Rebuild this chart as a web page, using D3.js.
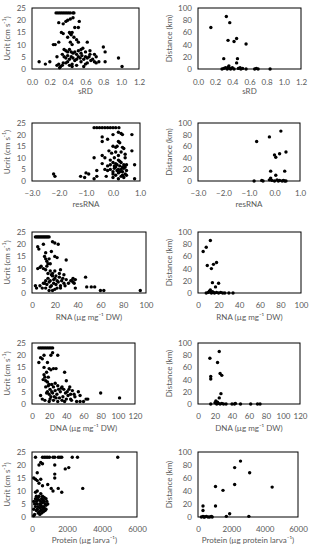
<!DOCTYPE html>
<html>
<head>
<meta charset="utf-8">
<script src="https://cdn.jsdelivr.net/npm/d3@7"></script>
<style>
  body { margin: 0; background: #fff; }
  text { font-family: Lato, "Liberation Sans", sans-serif; fill: #595959; }
</style>
</head>
<body>
<script>
// set the dimensions of the page
const WIDTH = 310, HEIGHT = 550;

// ---- data ----
const ucritTicks = [0, 5, 10, 15, 20, 25];
const distTicks = [0, 20, 40, 60, 80, 100];

const sRDUcrit = [
  [0.27,23],[0.29,23],[0.31,23],[0.33,23],[0.35,23],[0.37,23],[0.39,23],[0.41,23],[0.43,23],[0.46,23],[0.47,23],
  [0.46,21],[0.43,20.5],[0.40,20],[0.38,19.5],[0.30,19],[0.35,18.5],[0.53,19.5],[0.48,17],[0.52,17],
  [0.33,15],[0.35,14.5],[0.42,15],[0.44,14],[0.45,15],[0.40,13],[0.47,13],[0.43,14.5],
  [0.50,12],[0.52,11],[0.62,11],[0.30,11],[0.24,10],[0.26,10],[0.43,11],[0.45,10],
  [0.80,9],[0.82,7],[0.55,8],[0.60,7],[0.57,8.5],[0.65,6],[0.70,6],[0.72,5],
  [0.36,8],[0.38,7.5],[0.40,7],[0.42,8],[0.44,7],[0.46,6.5],[0.48,7],[0.50,6],
  [0.34,6],[0.36,5],[0.38,4.5],[0.40,5.5],[0.42,4],[0.44,5],[0.46,4.5],[0.48,3.5],
  [0.50,4],[0.52,5],[0.54,4.5],[0.56,5.5],[0.58,4],[0.60,5],[0.62,4.5],[0.64,5],
  [0.66,3.5],[0.68,4],[0.70,3],[0.72,2.5],[0.75,3],[0.82,3],[0.60,2],[0.55,3],
  [0.45,2],[0.42,1.5],[0.40,3],[0.38,2.5],[0.45,1],[0.50,1.5],[0.58,1],[0.62,2.5],
  [0.08,3],[0.15,2],[0.20,3],[0.28,1.5],[0.30,2],[0.32,1],[0.34,1.5],[0.31,0.5],
  [0.97,4.5],[1.01,1],[0.28,5],[0.35,2.5],[0.52,7.5],[0.65,7.5],[0.55,6.5]
];
const sRDDist = [
  [0.15,68],[0.33,86],[0.37,76],[0.35,47],[0.42,45],[0.45,50],[0.56,41],[0.30,17],[0.46,17],[0.45,10],
  [0.28,0],[0.30,1],[0.32,2],[0.34,0],[0.35,3],[0.36,5],[0.37,1],[0.38,0],[0.40,2],[0.42,0],
  [0.47,1],[0.49,2],[0.50,0],[0.52,1],[0.56,0],[0.66,0],[0.68,1],[0.70,0],[0.84,0]
];

const resRNAUcrit = [
  [-0.7,23],[-0.6,23],[-0.5,23],[-0.4,23],[-0.3,23],[-0.2,23],[-0.1,23],[0.0,23],[0.1,23],[0.22,23],
  [-2.2,3],[-2.15,2],[-1.2,2],[-1.0,3.5],[-1.05,1.5],[-0.9,3],[-0.7,1],[-0.6,2],[-0.6,4.5],[-0.7,10],
  [-0.4,19],[-0.4,17],[-0.2,18],[0.0,20],[0.2,21],[0.3,20.5],[0.35,20],[0.7,20],[0.2,17],[0.25,16.5],
  [0.7,13],[0.8,7],[0.8,1],[0.0,15],[0.1,14.5],[0.15,15],[0.35,14.5],[0.4,14],[0.1,12.5],[0.2,11],
  [-0.4,11],[-0.3,10],[-0.1,9],[0.0,8],[0.1,7.5],[0.2,9],[0.3,8],[0.45,10],[0.5,7],[-0.4,7.5],
  [-0.3,5],[-0.2,4.5],[-0.1,5],[0.0,4],[0.05,5.5],[0.1,6],[0.15,4.5],[0.2,5],[0.25,6.5],[0.3,5],
  [0.35,4],[0.4,5.5],[0.45,6],[0.5,4.5],[0.0,3],[0.1,2.5],[0.2,3.5],[0.3,2],[0.4,1.5],[0.45,3],
  [-0.2,6.5],[-0.1,7],[0.05,6.5],[0.15,7],[0.25,8.5],[0.35,6],[0.4,7],[0.5,2.5],[0.0,1.5],[0.2,1],
  [-0.05,12],[0.3,12.5],[0.45,11.5],[-0.15,13],[0.05,10],[0.25,4],[0.35,2.5],[-0.25,2]
];
const resRNADist = [
  [-0.7,68],[-0.2,76],[0.25,86],[0.0,45],[0.05,41],[0.2,47],[0.45,50],[-0.15,17],[0.05,10],[0.4,17],
  [-0.8,0],[-0.5,1],[-0.45,0],[-0.2,2],[-0.15,5],[-0.1,1],[0.0,0],[0.1,2],[0.15,0],[0.2,1],
  [0.3,0],[0.35,1],[0.4,0],[0.45,0]
];

const rnaUcrit = [
  [3,23],[4,23],[5,23],[6,23],[7,23],[8,23],[9,23],[10,23],[11,23],[12,23],[13,23],[14,23],[15,23],
  [5,19],[6,18],[10,20],[18,21],[20,20.5],[23,20],[12,16.5],[17,17],[20,15],[22,14.5],[11,15],
  [12,14],[13,13],[14,12],[15,14],[30,13.5],[8,11],[5,10],[7,10.5],[10,10],[12,9.5],[16,9],
  [18,8],[20,9],[25,9.5],[28,7.5],[13,11],[16,12],[47,6.5],[52,2.5],[55,2.5],[48,2.5],[60,1],
  [63,1],[95,1],[35,5],[37,4],[38,5.5],[36,6],[3,3],[4,2],[7,3],[9,2],[10,4],[15,1],[18,1],
  [20,1.5],[22,2],[12,5],[14,6],[16,5],[18,7],[20,6],[22,5],[24,6.5],[26,5],[28,4],[30,5.5],
  [11,4],[13,3.5],[15,4.5],[17,3],[19,4],[21,3.5],[23,4.5],[25,3],[27,6],[29,3],[32,4],[34,5],
  [36,4.5],[38,2],[14,8],[17,7.5],[21,7],[24,8],[19,5.5],[16,2.5],[12,2],[25,2]
];
const rnaDist = [
  [5,68],[8,75],[12,86],[9,45],[13,40],[15,47],[18,50],[14,17],[20,16],[17,10],
  [8,0],[10,1],[11,3],[12,5],[13,0],[14,2],[15,1],[16,0],[18,1],[20,0],[22,1],[24,0],[26,0],[30,0],[34,0]
];

const dnaUcrit = [
  [8,23],[10,23],[12,23],[14,23],[16,23],[18,23],[20,23],[22,23],[24,23],
  [8,17],[10,19],[12,18.5],[14,20],[22,20],[24,21],[30,20],[18,17],[14,15],[20,14.5],[22,14],
  [25,14.5],[28,14.5],[38,13],[15,11],[13,10],[16,9.5],[18,9],[20,8],[40,9.5],[30,7.5],
  [80,4.5],[102,2.5],[60,1],[65,2],[52,1],[56,1],[63,2],[10,3.5],[12,2],[15,1.5],[20,1],
  [25,1.5],[30,1],[35,1.5],[45,2],[50,3],[14,12],[17,13],[19,11],[21,6],[23,5],[25,7],
  [27,5.5],[29,4],[31,6],[33,5],[35,7],[37,6],[39,4.5],[41,5],[43,6],[45,4],[47,5.5],[49,4],
  [54,5],[56,3.5],[18,5],[20,4],[22,3],[24,4.5],[26,3],[28,2.5],[32,2.5],[36,3],[40,2],[42,3.5],
  [16,7],[19,7.5],[23,8],[27,8.5],[34,6.5],[44,7],[17,4.5],[21,2],[38,1],[46,1.5]
];
const dnaDist = [
  [14,75],[23,68],[25,86],[15,45],[15,41],[26,50],[28,47],[27,17],[25,10],
  [15,0],[20,2],[21,5],[22,0],[23,3],[24,1],[26,0],[28,1],[30,0],[33,0],[40,0],[43,0],[44,1],
  [50,0],[62,0],[70,0],[73,0]
];

const protUcrit = [
  [200,23],[600,23],[700,23],[800,23],[900,23],[1000,23],[1200,23],[1300,23],[1500,23],[1600,23],
  [1700,23],[2300,23],[2600,23],[4900,23],
  [400,20],[500,21],[600,20.5],[1300,20],[1900,18.5],[2100,19],[300,17],[1300,16.5],[100,15],
  [200,14.5],[300,14],[400,13],[500,14.5],[600,12],[900,12.5],[1300,15],[1100,11],[1200,10],
  [1500,11],[1700,9.5],[2900,11],[300,10],[500,9],[200,9.5],[100,3],[150,1],[100,0.5],
  [200,7],[250,6],[300,5],[350,7.5],[400,6.5],[450,5],[500,6],[550,7],[600,5.5],[650,4],
  [700,6],[750,5],[800,4.5],[850,6],[900,5],[200,4],[250,2.5],[300,3],[350,4],[400,2],[450,3.5],
  [500,2.5],[550,4],[600,3],[650,2],[700,3.5],[750,2.5],[800,3],[150,5],[100,6],[350,1.5],
  [450,1],[550,1.5],[250,8],[400,8],[600,8],[700,7.5],[300,6.5],[500,4.5],[650,6.5],[800,7]
];
const protDist = [
  [2550,86],[2200,76],[3100,68],[1050,47],[1500,41],[2200,50],[4450,46],[300,17],[1050,17],[300,10],
  [1900,5],[1700,1],[3050,1],[200,0],[300,1],[350,0],[400,0],[500,1],[600,0],[700,0],[800,1],[850,0]
];

// ---- panel layout ----
const panels = [
  { data: sRDUcrit, x: [0, 1.2], xt: d3.range(0, 1.21, 0.2), fmt: d3.format(".1f"), y: [0, 25], yt: ucritTicks,
    box: [32, 139, 8, 69], xl: "sRD", yl: "ucrit", tx: 80, tl: 92 },
  { data: sRDDist, x: [0, 1.2], xt: d3.range(0, 1.21, 0.2), fmt: d3.format(".1f"), y: [0, 100], yt: distTicks,
    box: [198, 301, 8, 69], xl: "sRD", yl: "dist", tx: 80, tl: 92 },
  { data: resRNAUcrit, x: [-3, 1], xt: [-3, -2, -1, 0, 1], fmt: d3.format(".1f"), y: [0, 25], yt: ucritTicks,
    box: [32, 140, 123, 181], xl: "resRNA", yl: "ucrit", tx: 191, tl: 205 },
  { data: resRNADist, x: [-3, 1], xt: [-3, -2, -1, 0, 1], fmt: d3.format(".1f"), y: [0, 100], yt: distTicks,
    box: [198, 300, 123, 181], xl: "resRNA", yl: "dist", tx: 191, tl: 205 },
  { data: rnaUcrit, x: [0, 100], xt: d3.range(0, 101, 20), fmt: d3.format("d"), y: [0, 25], yt: ucritTicks,
    box: [32, 146, 232, 293], xl: "RNA (µg mg⁻¹ DW)", yl: "ucrit", tx: 303, tl: 318 },
  { data: rnaDist, x: [0, 100], xt: d3.range(0, 101, 20), fmt: d3.format("d"), y: [0, 100], yt: distTicks,
    box: [198, 301, 232, 293], xl: "RNA (µg mg⁻¹ DW)", yl: "dist", tx: 303, tl: 318 },
  { data: dnaUcrit, x: [0, 120], xt: d3.range(0, 121, 20), fmt: d3.format("d"), y: [0, 25], yt: ucritTicks,
    box: [32, 135, 343, 404], xl: "DNA (µg mg⁻¹ DW)", yl: "ucrit", tx: 414, tl: 429 },
  { data: dnaDist, x: [0, 120], xt: d3.range(0, 121, 20), fmt: d3.format("d"), y: [0, 100], yt: distTicks,
    box: [198, 300, 343, 404], xl: "DNA (µg mg⁻¹ DW)", yl: "dist", tx: 414, tl: 429 },
  { data: protUcrit, x: [0, 6000], xt: d3.range(0, 6001, 2000), fmt: d3.format("d"), y: [0, 25], yt: ucritTicks,
    box: [32, 137, 452, 517], xl: "Protein (µg larva⁻¹)", yl: "ucrit", tx: 527, tl: 541 },
  { data: protDist, x: [0, 6000], xt: d3.range(0, 6001, 2000), fmt: d3.format("d"), y: [0, 100], yt: distTicks,
    box: [198, 298, 452, 517], xl: "Protein (µg protein larva⁻¹)", yl: "dist", tx: 527, tl: 541 }
];

const svg = d3.select("body").append("svg")
  .attr("width", WIDTH)
  .attr("height", HEIGHT);

panels.forEach((p, i) => {
  const [x0, x1, y0, y1] = p.box;
  const xScale = d3.scaleLinear(p.x, [x0, x1]);
  const yScale = d3.scaleLinear(p.y, [y1, y0]);
  const g = svg.append("g");

  g.append("rect")
    .attr("x", x0).attr("y", y0)
    .attr("width", x1 - x0).attr("height", y1 - y0)
    .attr("fill", "none").attr("stroke", "#000").attr("stroke-width", 1);

  const xAxis = d3.axisBottom(xScale).tickValues(p.xt).tickFormat(p.fmt).tickSize(0).tickPadding(5);
  g.append("g")
    .attr("transform", `translate(0,${p.tx - 6})`)
    .call(xAxis)
    .call(a => a.select(".domain").remove())
    .call(a => a.selectAll("text").attr("font-size", 8).attr("fill", "#595959")
      .attr("font-family", "Lato, 'Liberation Sans', sans-serif"));

  const yAxis = d3.axisLeft(yScale).tickValues(p.yt).tickSize(0).tickPadding(5);
  g.append("g")
    .attr("transform", `translate(${x0 - 1},0)`)
    .call(yAxis)
    .call(a => a.select(".domain").remove())
    .call(a => a.selectAll("text").attr("font-size", 8).attr("fill", "#595959")
      .attr("font-family", "Lato, 'Liberation Sans', sans-serif"));

  // x axis title
  g.append("text")
    .attr("x", (x0 + x1) / 2)
    .attr("y", p.tl)
    .attr("text-anchor", "middle")
    .attr("dominant-baseline", "middle")
    .attr("font-size", 8)
    .text(p.xl);

  // y axis title
  const yt = g.append("text")
    .attr("transform", `translate(${i % 2 === 0 ? 8 : 170},${(y0 + y1) / 2}) rotate(-90)`)
    .attr("text-anchor", "middle")
    .attr("dominant-baseline", "middle")
    .attr("font-size", 8);
  if (p.yl === "ucrit") {
    yt.append("tspan").text("Ucrit (cm s");
    yt.append("tspan").attr("dy", -3).attr("font-size", 5.5).text("-1");
    yt.append("tspan").attr("dy", 3).text(")");
  } else {
    yt.text("Distance (km)");
  }

  g.append("g")
    .selectAll("circle")
    .data(p.data)
    .join("circle")
    .attr("cx", d => xScale(d[0]))
    .attr("cy", d => yScale(d[1]))
    .attr("r", 1.7)
    .attr("fill", "#000");
});
</script>
</body>
</html>
